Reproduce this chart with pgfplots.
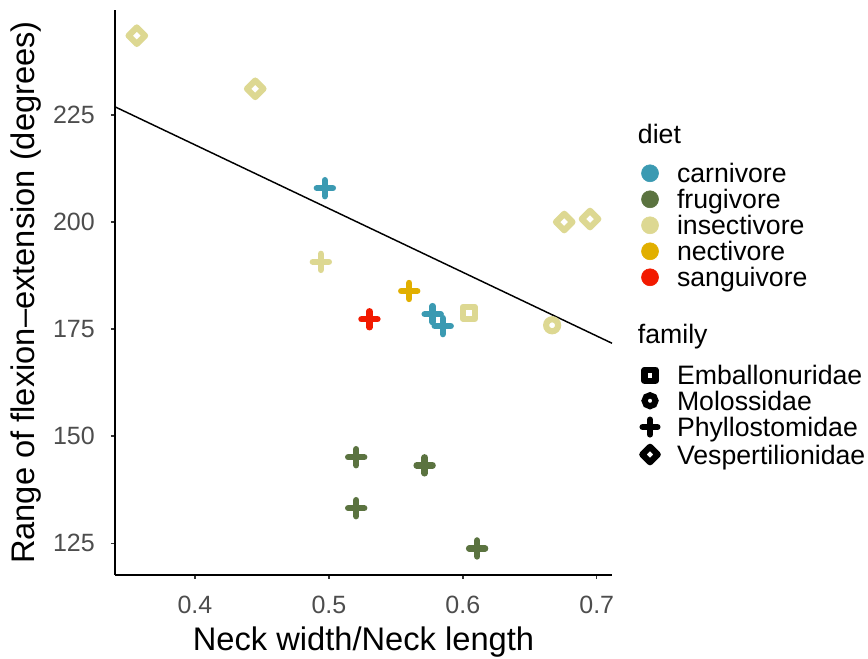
\documentclass[border=0pt]{standalone}
\usepackage{fontspec}
\setmainfont{Liberation Sans}
\usepackage{pgfplots}
\pgfplotsset{compat=1.18}
\definecolor{carn}{HTML}{3B9AB2}
\definecolor{frug}{HTML}{5B7340}
\definecolor{insect}{HTML}{DDD892}
\definecolor{nect}{HTML}{E1AF00}
\definecolor{sang}{HTML}{F21A00}
\definecolor{ticklab}{HTML}{4D4D4D}
\pgfdeclareplotmark{dmd}{%
  \pgfpathmoveto{\pgfqpoint{0pt}{\pgfplotmarksize}}%
  \pgfpathlineto{\pgfqpoint{\pgfplotmarksize}{0pt}}%
  \pgfpathlineto{\pgfqpoint{0pt}{-\pgfplotmarksize}}%
  \pgfpathlineto{\pgfqpoint{-\pgfplotmarksize}{0pt}}%
  \pgfpathclose\pgfusepathqstroke}
\pgfplotsset{
  pplus/.style={only marks, mark=+, mark size=6pt, mark options={line width=4.8pt, line cap=round}},
  pcirc/.style={only marks, mark=o, mark size=4.5pt, mark options={line width=4.6pt}},
  psq/.style={only marks, mark=square, mark size=4.4pt, mark options={line width=4.6pt, line join=round}},
  pdmd/.style={only marks, mark=dmd, mark size=6.2pt, mark options={line width=4.6pt, line join=round}},
  mylegend/.style={legend cell align=left,
    legend style={draw=none, fill=none, inner sep=0pt, outer sep=0pt, anchor=north west,
      column sep=12.05pt, font=\fontsize{20}{24}\selectfont,
      nodes={inner sep=0pt, text height=14.5pt, text depth=0pt, anchor=west}}},
}
\newcommand{\lbox}{\path[draw=none, fill=none] (-8.2pt,-7pt) rectangle (8.2pt,7pt);}
\begin{document}
\begin{tikzpicture}
\useasboundingbox (-86.25pt,-63pt) rectangle (564.75pt,431.25pt);
\begin{axis}[name=main, at={(0,0)}, anchor=south west, scale only axis,
  width=372.75pt, height=423.75pt,
  xmin=0.3403, xmax=0.7114, ymin=117.6, ymax=249.5,
  clip=false,
  axis x line*=bottom, axis y line*=left,
  axis line style={line width=1.1pt, -},
  xtick={0.4,0.5,0.6,0.7}, ytick={125,150,175,200,225},
  tick align=outside, major tick length=3pt,
  tick style={line width=1.1pt, color=black!80},
  /pgf/number format/assume math mode=true,
  xticklabel style={/pgf/number format/fixed, /pgf/number format/precision=1, /pgf/number format/fixed zerofill},
  scaled ticks=false,
  ticklabel style={font=\fontsize{18.75}{22}\selectfont, color=ticklab, inner sep=0pt},
  yticklabel style={anchor=east, xshift=-12pt},
  xticklabel style={anchor=north, yshift=-12.5pt},
  xlabel={Neck width/Neck length},
  ylabel={Range of flexion--extension (degrees)},
  label style={font=\fontsize{24.5}{28}\selectfont, inner sep=0pt},
  xlabel style={at={(axis description cs:0.5,0)}, anchor=base, yshift=-56.8pt},
  ylabel style={at={([xshift=-60pt]axis description cs:0,0.5)}, anchor=base},
  mylegend,
  legend style={at={(1.0545,0.7281)}, row sep=5pt},
]
% regression line
\addplot[black, line width=1.1pt, forget plot] coordinates {(0.3403,226.9) (0.7114,171.7)};
% insectivore, Vespertilionidae
\addplot[pdmd, color=insect, forget plot] coordinates {(0.3566,243.5) (0.445,231.1) (0.6757,200.0) (0.695,200.7)};
% insectivore, Molossidae
\addplot[pcirc, color=insect, forget plot] coordinates {(0.6667,175.9)};
% insectivore, Emballonuridae
\addplot[psq, color=insect, forget plot] coordinates {(0.6045,178.8)};
% insectivore, Phyllostomidae
\addplot[pplus, color=insect, forget plot] coordinates {(0.494,190.7)};
% carnivore
\addplot[pplus, color=carn, forget plot] coordinates {(0.497,207.9) (0.5775,178.5) (0.585,175.7)};
% nectivore
\addplot[pplus, color=nect, forget plot] coordinates {(0.560,183.9)};
% sanguivore
\addplot[pplus, color=sang, forget plot] coordinates {(0.5303,177.3)};
% frugivore
\addplot[pplus, color=frug, forget plot] coordinates {(0.5204,145.1) (0.5204,133.2) (0.5715,143.2) (0.6107,123.8)};
% diet legend
\addlegendimage{legend image code/.code={\lbox \fill[carn] (0pt,0pt) circle (6.4pt);}}
\addlegendentry{carnivore}
\addlegendimage{legend image code/.code={\lbox \fill[frug] (0pt,0pt) circle (6.4pt);}}
\addlegendentry{frugivore}
\addlegendimage{legend image code/.code={\lbox \fill[insect] (0pt,0pt) circle (6.4pt);}}
\addlegendentry{insectivore}
\addlegendimage{legend image code/.code={\lbox \fill[nect] (0pt,0pt) circle (6.4pt);}}
\addlegendentry{nectivore}
\addlegendimage{legend image code/.code={\lbox \fill[sang] (0pt,0pt) circle (6.4pt);}}
\addlegendentry{sanguivore}
\end{axis}
\begin{axis}[at={(0,0)}, anchor=south west, scale only axis,
  width=372.75pt, height=423.75pt, hide axis,
  xmin=0, xmax=1, ymin=0, ymax=1,
  mylegend,
  legend style={at={(1.0545,0.3706)}, row sep=4.6pt},
]
\addplot[draw=none, forget plot] coordinates {(0.5,0.5)};
\addlegendimage{legend image code/.code={\lbox \draw[black, line width=4.6pt, line join=round] (-4.1pt,-4.1pt) rectangle (4.1pt,4.1pt);}}
\addlegendentry{Emballonuridae}
\addlegendimage{legend image code/.code={\lbox \draw[black, line width=4.6pt] (0pt,0pt) circle (4.1pt);}}
\addlegendentry{Molossidae}
\addlegendimage{legend image code/.code={\lbox \draw[black, line width=4.6pt, line cap=round] (-5.6pt,0pt) -- (5.6pt,0pt) (0pt,-5.6pt) -- (0pt,5.6pt);}}
\addlegendentry{Phyllostomidae}
\addlegendimage{legend image code/.code={\lbox \draw[black, line width=4.6pt, line join=round] (0pt,5.8pt) -- (5.8pt,0pt) -- (0pt,-5.8pt) -- (-5.8pt,0pt) -- cycle;}}
\addlegendentry{Vespertilionidae}
\end{axis}
\node[anchor=base west, inner sep=0pt, font=\fontsize{20}{24}\selectfont] at ([shift={(392pt,323.25pt)}]main.south west) {diet};
\node[anchor=base west, inner sep=0pt, font=\fontsize{20}{24}\selectfont] at ([shift={(392pt,173.25pt)}]main.south west) {family};
\end{tikzpicture}
\end{document}
